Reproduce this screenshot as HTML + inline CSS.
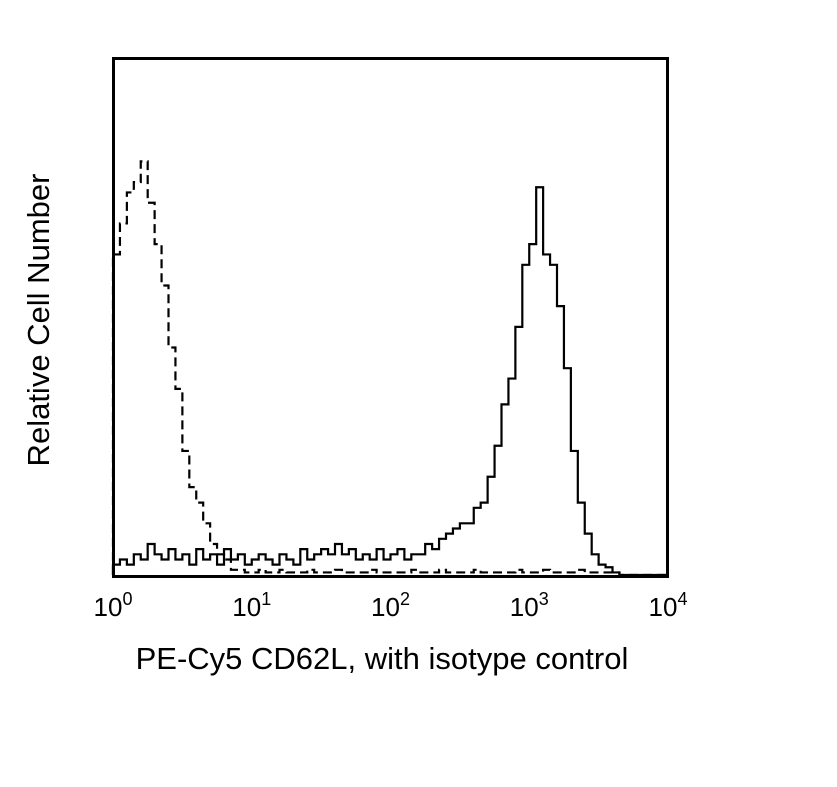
<!DOCTYPE html>
<html><head><meta charset="utf-8"><style>
body{margin:0;background:#fff;}
svg{display:block;font-family:"Liberation Sans",Arial,sans-serif;}
</style></head><body>
<svg id="chart" width="837" height="787" viewBox="0 0 837 787">
<rect x="0" y="0" width="837" height="787" fill="#fff"/>
<g id="series"></g>
<rect x="113.5" y="58.5" width="554" height="518" fill="none" stroke="#000" stroke-width="3"/>
<g id="ticks"></g>
<text x="382" y="669" font-size="31" text-anchor="middle">PE-Cy5 CD62L, with isotype control</text>
<text transform="translate(49,320) rotate(-90)" font-size="31" text-anchor="middle">Relative Cell Number</text>
</svg>
<script>
const binWidth = 0.05;
const solidCounts = [2,3,2,4,3,6,4,3,5,3,4,2,5,3,4,2,5,3,4,2,3,4,3,2,4,3,2,5,3,4,5,4,6,4,5,3,4,3,5,3,4,5,3,4,4,6,5,7,8,9,10,10,13,14,19,25,33,38,48,60,64,75,62,60,52,40,24,14,8,4,2,1.5,0.5,0,0,0,0,0,0,0];
const dashedCounts = [62,68,74,76,80,72,64,56,44,36,24,17,14,10,6,4,3,1,1,0.5,0.5,1,0.5,0.5,1,0.5,0.5,0.5,1,0.5,0.5,0.5,1,0.5,0.5,0.5,0.5,1,0.5,0.5,0.5,0.5,0.5,1,0.5,0.5,0.5,1,0.5,0.5,0.5,0.5,1,0.5,0.5,0.5,0.5,0.5,1,0.5,0.5,0.5,1,0.5,0.5,0.5,0.5,1,0.5,0.5,0.5,0.5,0.5,0,0,0,0,0,0,0];
const tickExps = ["0","1","2","3","4"];
const x0=113, x1=668, yBase=575, yTop=58, maxCount=100;
function xs(l){return x0+(x1-x0)*l/4;}
function ys(c){return yBase-(yBase-yTop)*c/maxCount;}
const NS="http://www.w3.org/2000/svg";
function stepPath(arr){
  let d="M"+xs(0)+","+ys(0);
  arr.forEach((c,i)=>{d+=" L"+xs(i*binWidth)+","+ys(c)+" L"+xs((i+1)*binWidth)+","+ys(c);});
  return d;
}
const g=document.getElementById('series');
const p1=document.createElementNS(NS,'path');
p1.setAttribute('d',stepPath(solidCounts));p1.setAttribute('fill','none');p1.setAttribute('stroke','#000');p1.setAttribute('stroke-width','2.2');


g.appendChild(p1);
const p2=document.createElementNS(NS,'path');
p2.setAttribute('d',stepPath(dashedCounts));p2.setAttribute('fill','none');p2.setAttribute('stroke','#000');p2.setAttribute('stroke-width','2.2');p2.setAttribute('stroke-dasharray','9,5');


g.appendChild(p2);
const tg=document.getElementById('ticks');
tickExps.forEach((e,i)=>{
  const t=document.createElementNS(NS,'text');
  t.setAttribute('x',xs(i));t.setAttribute('y',616);t.setAttribute('font-size','26');t.setAttribute('text-anchor','middle');
  
  
  t.textContent="10";
  const s=document.createElementNS(NS,'tspan');
  s.setAttribute('dy','-11');s.setAttribute('font-size','18');s.textContent=e;
  t.appendChild(s);
  tg.appendChild(t);
});
</script>
</body></html>
